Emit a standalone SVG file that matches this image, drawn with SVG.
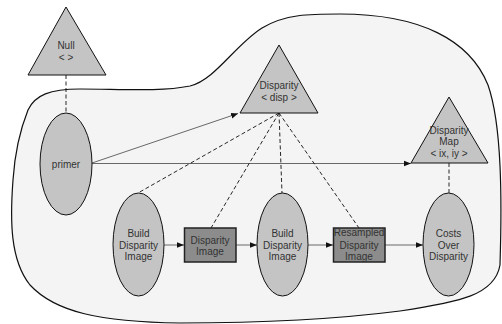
<svg xmlns="http://www.w3.org/2000/svg" width="502" height="324" viewBox="0 0 502 324">
<defs>
<style>
.shape{fill:#c4c4c4;stroke:#111;stroke-width:1}
.box{fill:#8c8c8c;stroke:#222;stroke-width:1.5}
.t{font-family:"Liberation Sans",Arial,sans-serif;font-size:10px;fill:#333;text-anchor:middle}
.arr{stroke:#444;stroke-width:0.8;fill:none;marker-end:url(#ah)}
.dash{stroke:#111;stroke-width:0.9;fill:none;stroke-dasharray:4,2.5}
</style>
<marker id="ah" viewBox="0 0 10 10" refX="10" refY="5" markerWidth="7" markerHeight="7" orient="auto" markerUnits="userSpaceOnUse">
<path d="M0,1 L10,5 L0,9 Z" fill="#111"/>
</marker>
</defs>
<rect width="502" height="324" fill="#fff"/>
<path id="blob" d="M80 89 C120 89,160 92,190 86 C215 80,235 45,262 28 C285 14,310 14,340 14 C420 14,470 40,488 85 C502 125,502 200,500 265 C495 295,460 302,400 311 C330 320,260 323,180 323 C100 322,55 312,30 285 C10 260,10 220,13 180 C15 150,22 125,28 110 C35 95,50 89,80 89 Z" fill="#f4f4f4" stroke="#111" stroke-width="1.2"/>
<g id="connectors">
<line class="dash" x1="66" y1="75" x2="66" y2="113"/>
<line class="arr" x1="92" y1="163" x2="238" y2="113.5"/>
<line class="arr" x1="92" y1="163.5" x2="411" y2="163.5"/>
<line class="dash" x1="279" y1="113" x2="138" y2="193"/>
<line class="dash" x1="279" y1="113" x2="211" y2="228"/>
<line class="dash" x1="279" y1="113" x2="282" y2="193"/>
<line class="dash" x1="279" y1="113" x2="359" y2="228"/>
<line class="dash" x1="449" y1="163" x2="449" y2="193"/>
<line class="arr" x1="164" y1="245" x2="184" y2="245"/>
<line class="arr" x1="236" y1="245" x2="257" y2="245"/>
<line class="arr" x1="307" y1="245" x2="333" y2="245"/>
<line class="arr" x1="385" y1="245" x2="423" y2="245"/>
</g>
<g id="null">
<polygon class="shape" points="66,7 106,75 28,75"/>
<text class="t" x="66" y="49">Null</text>
<text class="t" x="66" y="61">&lt; &gt;</text>
</g>
<g id="primer">
<ellipse class="shape" cx="66" cy="164" rx="26" ry="51"/>
<text class="t" x="66" y="168">primer</text>
</g>
<g id="disparity">
<polygon class="shape" points="279,45 318,113 240,113"/>
<text class="t" x="279" y="88.5">Disparity</text>
<text class="t" x="279" y="100.5">&lt; disp &gt;</text>
</g>
<g id="disparityMap">
<polygon class="shape" points="449,97 488,163 411,163"/>
<text class="t" x="449" y="133.5">Disparity</text>
<text class="t" x="449" y="145">Map</text>
<text class="t" x="449" y="156.5">&lt; ix, iy &gt;</text>
</g>
<g id="buildDisparityImage1">
<ellipse class="shape" cx="138.5" cy="244.5" rx="25.5" ry="51.5"/>
<text class="t" x="138.5" y="237">Build</text>
<text class="t" x="138.5" y="248.5">Disparity</text>
<text class="t" x="138.5" y="260">Image</text>
</g>
<g id="disparityImage">
<rect class="box" x="184.5" y="228" width="51.5" height="34"/>
<text class="t" x="210" y="243.5">Disparity</text>
<text class="t" x="210" y="254.5">Image</text>
</g>
<g id="buildDisparityImage2">
<ellipse class="shape" cx="282.5" cy="244.5" rx="25.5" ry="51.5"/>
<text class="t" x="282.5" y="237">Build</text>
<text class="t" x="282.5" y="248.5">Disparity</text>
<text class="t" x="282.5" y="260">Image</text>
</g>
<g id="resampledDisparityImage">
<rect class="box" x="333.5" y="228" width="51.5" height="34"/>
<text class="t" x="359" y="236">Resampled</text>
<text class="t" x="359" y="248.5">Disparity</text>
<text class="t" x="359" y="260">Image</text>
</g>
<g id="costsOverDisparity">
<ellipse class="shape" cx="448.5" cy="244.5" rx="25.5" ry="51.5"/>
<text class="t" x="448.5" y="237">Costs</text>
<text class="t" x="448.5" y="248.5">Over</text>
<text class="t" x="448.5" y="260">Disparity</text>
</g>
</svg>
